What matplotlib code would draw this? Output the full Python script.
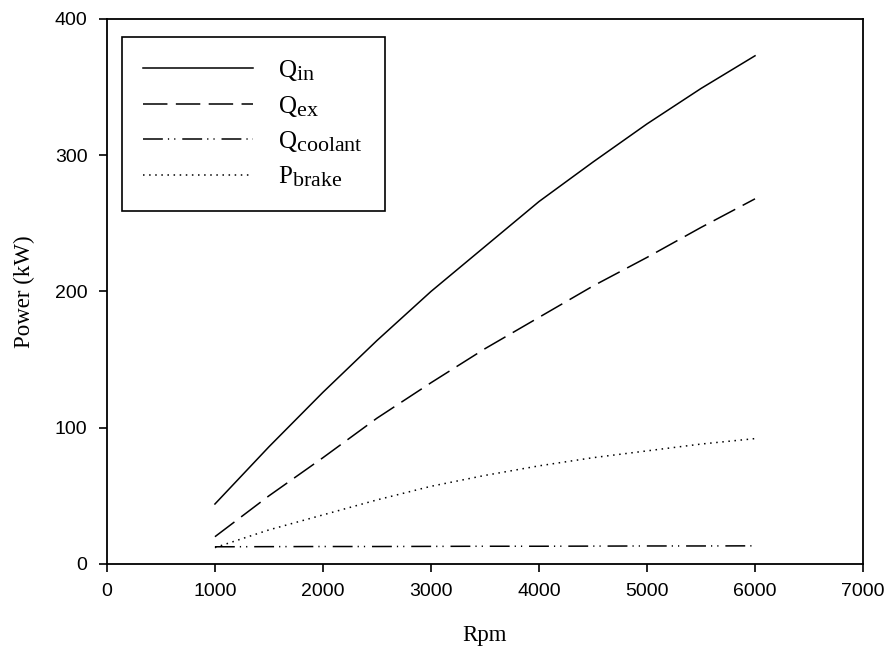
import numpy as np
import matplotlib.pyplot as plt
import matplotlib._mathtext as mathtext_internal

# larger sub-scripts in the legend labels
mathtext_internal.SHRINK_FACTOR = 0.88
plt.rcParams['mathtext.fontset'] = 'custom'
plt.rcParams['mathtext.rm'] = 'Liberation Serif'
plt.rcParams['mathtext.it'] = 'Liberation Serif'

rpm = [1000, 1500, 2000, 2500, 3000, 3500, 4000, 4500, 5000, 5500, 6000]
q_in = [44, 86, 126, 164, 200, 233, 266, 295, 323, 349, 373]
q_ex = [20, 50, 78, 107, 133, 158, 181, 204, 225, 247, 268]
q_coolant = [12.6, 12.7, 12.8, 12.8, 12.9, 13.0, 13.0, 13.1, 13.2, 13.2, 13.3]
p_brake = [12, 25, 36, 47, 57, 65, 72, 78, 83, 88, 92]

fig = plt.figure(figsize=(8.91, 6.55), dpi=100)
ax = fig.add_axes([0.120, 0.139, 0.8486, 0.832])

lw = 1.1
ax.plot(rpm, q_in, color='black', lw=lw, ls='-', label=r'$\mathrm{Q_{in}}$')
ax.plot(rpm, q_ex, color='black', lw=lw, dashes=(16, 5.5), label=r'$\mathrm{Q_{ex}}$')
ax.plot(rpm, q_coolant, color='black', lw=lw, dashes=(13, 3.3, 0.8, 3.3, 0.8, 4.5),
        label=r'$\mathrm{Q_{coolant}}$')
ax.plot(rpm, p_brake, color='black', lw=lw, dashes=(1, 3), label=r'$\mathrm{P_{brake}}$')

ax.set_xlim(0, 7000)
ax.set_ylim(0, 400)
ax.set_xticks(range(0, 7001, 1000))
ax.set_yticks(range(0, 401, 100))
ax.tick_params(direction='out', length=6, width=1.2, labelsize=14, pad=8)
for s in ax.spines.values():
    s.set_linewidth(1.3)
for lab in ax.get_xticklabels() + ax.get_yticklabels():
    lab.set_family('Liberation Sans')

ax.set_xlabel('Rpm', family='Liberation Serif', fontsize=16.5, labelpad=18)
ax.set_ylabel('Power (kW)', family='Liberation Serif', fontsize=16.5, labelpad=14)

leg = ax.legend(loc='upper left', bbox_to_anchor=(0.0202, 0.967), borderaxespad=0,
                fontsize=18, handlelength=4.4, handletextpad=1.0, borderpad=0.85,
                labelspacing=0.42, fancybox=False, edgecolor='black', framealpha=1)
leg.get_frame().set_linewidth(1.2)

fig.savefig('out.png', dpi=100)
